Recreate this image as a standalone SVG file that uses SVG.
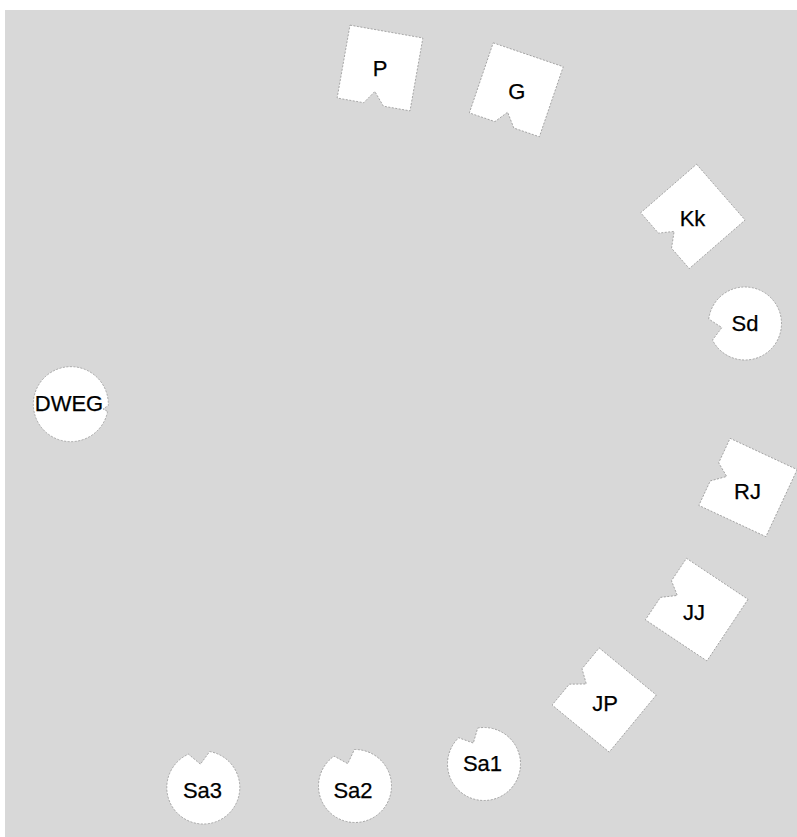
<svg xmlns="http://www.w3.org/2000/svg" xmlns:xlink="http://www.w3.org/1999/xlink" width="797" height="837" viewBox="0 0 797 837">
<style>
  .shape { fill: #ffffff; stroke: #9a9a9a; stroke-width: 0.8; stroke-dasharray: 2 1.5; }
  .lbl { font-family: "Liberation Sans", Arial, Helvetica, sans-serif; font-size: 22px; fill: #000000; text-anchor: middle; stroke: #000000; stroke-width: 0.25; }
</style>
<defs>
  <path id="sq" d="M-37,-37 L37,-37 L37,37 L10,37 L-1,24 L-10,37 L-37,37 Z"/>
  <path id="circ" d="M10.7,-34.9 A36.5,36.5 0 1 1 -10.7,-34.9 L0,-23.5 Z"/>
</defs>
<rect x="0" y="0" width="797" height="837" fill="#ffffff"/>
<rect x="5" y="10" width="792" height="827" fill="#d8d8d8"/>

<g id="connectors"></g>

<g id="node-P">
  <use xlink:href="#sq" class="shape" transform="translate(380,68) rotate(10)"/>
  <text class="lbl" x="380" y="76">P</text>
</g>
<g id="node-G">
  <use xlink:href="#sq" class="shape" transform="translate(516.3,89.8) rotate(18.8)"/>
  <text class="lbl" x="516.7" y="99">G</text>
</g>
<g id="node-Kk">
  <use xlink:href="#sq" class="shape" transform="translate(692.9,216.4) rotate(49)"/>
  <text class="lbl" x="692.5" y="225.5">Kk</text>
</g>
<g id="node-Sd">
  <use xlink:href="#circ" class="shape" transform="translate(745,323.5) rotate(-100)"/>
  <text class="lbl" x="745" y="330.5">Sd</text>
</g>
<g id="node-DWEG">
  <path class="shape" d="M107.6,411.5 A37.5,37.5 0 1 1 108.3,405.5 L103,409 Z"/>
  <text class="lbl" x="69" y="411">DWEG</text>
</g>
<g id="node-RJ">
  <use xlink:href="#sq" class="shape" transform="translate(748,487.5) rotate(115)"/>
  <text class="lbl" x="747.5" y="499">RJ</text>
</g>
<g id="node-JJ">
  <use xlink:href="#sq" class="shape" transform="translate(696.7,609.6) rotate(123.7)"/>
  <text class="lbl" x="694" y="619.5">JJ</text>
</g>
<g id="node-JP">
  <use xlink:href="#sq" class="shape" transform="translate(604.2,700) rotate(129.5)"/>
  <text class="lbl" x="605" y="710.5">JP</text>
</g>
<g id="node-Sa1">
  <use xlink:href="#circ" class="shape" transform="translate(484,764) rotate(-27)"/>
  <text class="lbl" x="482.5" y="771">Sa1</text>
</g>
<g id="node-Sa2">
  <use xlink:href="#circ" class="shape" transform="translate(355,786) rotate(-18)"/>
  <text class="lbl" x="353" y="798">Sa2</text>
</g>
<g id="node-Sa3">
  <use xlink:href="#circ" class="shape" transform="translate(203.3,787.5) rotate(-7)"/>
  <text class="lbl" x="202.5" y="798">Sa3</text>
</g>
</svg>
